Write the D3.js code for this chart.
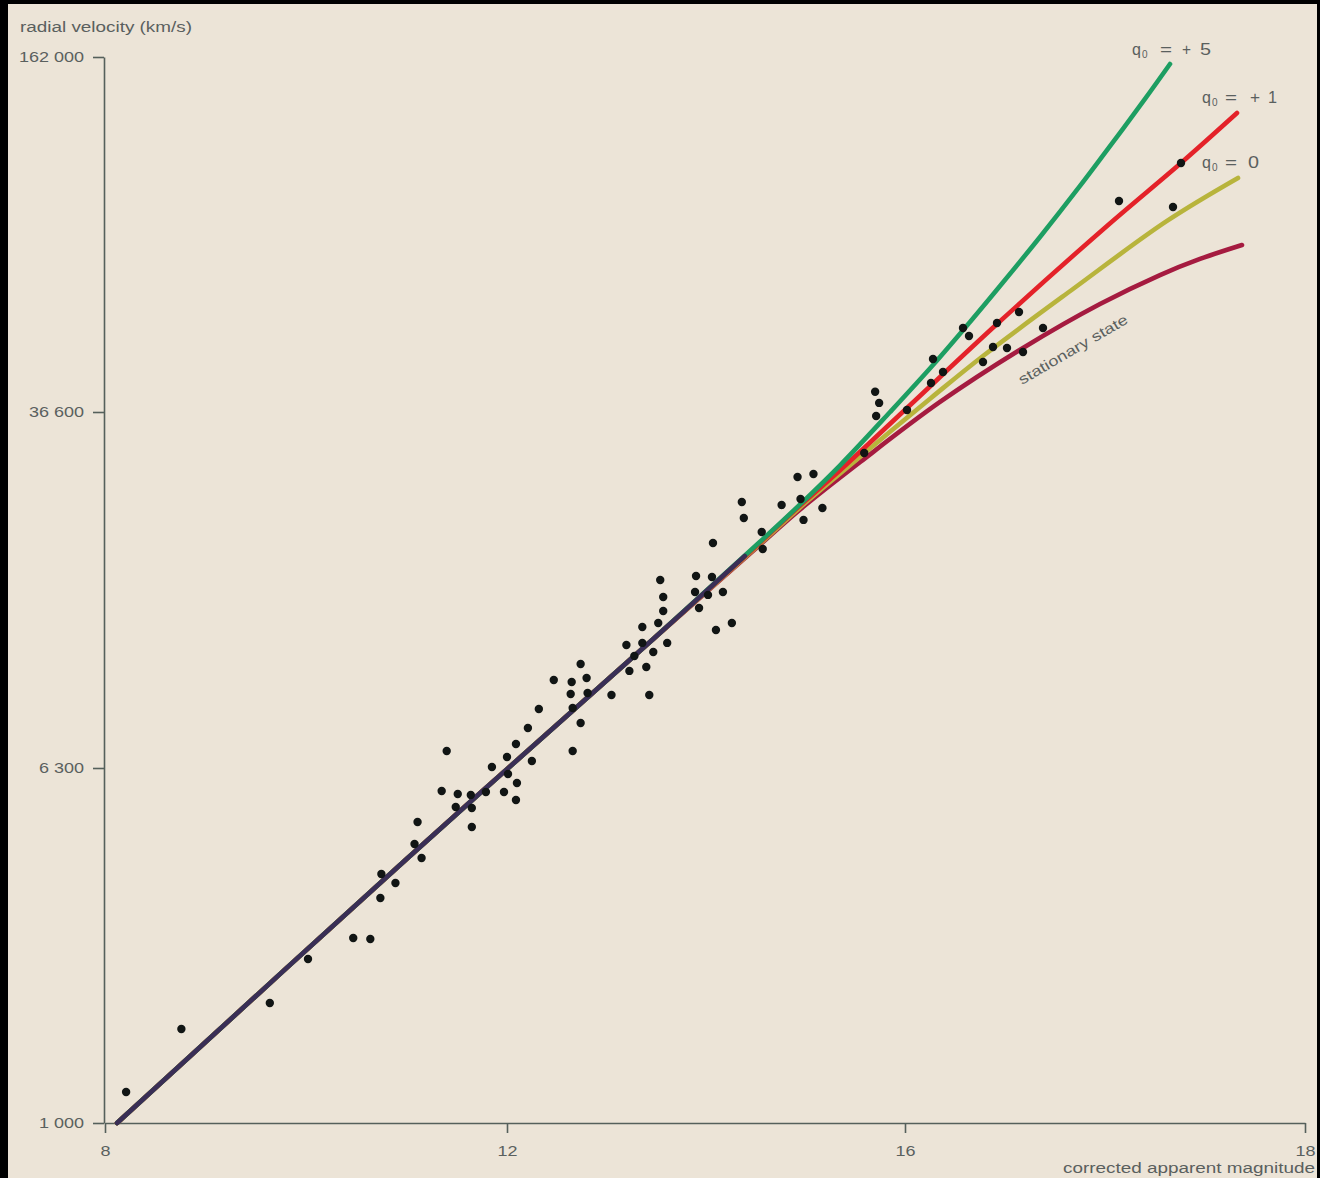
<!DOCTYPE html>
<html>
<head>
<meta charset="utf-8">
<script src="https://cdn.jsdelivr.net/npm/d3@7"></script>
<style>
  html, body { margin: 0; padding: 0; background: #000; }
  svg { display: block; }
  text { font-family: "Liberation Sans", Arial, sans-serif; fill: #5a605e; }
</style>
</head>
<body>
<div id="chart"></div>
<script>
// ---------- data ----------
const xTicks = [8, 12, 16, 18];
const yTicks = [1000, 6300, 36600, 162000];
const yTickLabels = ["1 000", "6 300", "36 600", "162 000"];

// observed galaxies: corrected apparent magnitude, radial velocity (km/s)
const galaxyMag = [8.21, 8.76, 9.64, 10.02, 10.47, 10.64, 10.74, 10.75, 10.89, 11.08, 11.15, 11.11,
  11.40, 11.35, 11.51, 11.64, 11.49, 11.65, 11.65, 11.79, 11.85, 11.97, 12.01, 12.10, 12.09, 12.00,
  12.09, 12.25, 12.21, 12.32, 12.66, 12.74, 12.66, 12.47, 12.65, 12.80, 12.64, 12.81, 12.74, 13.05,
  13.43, 13.23, 13.40, 13.20, 13.36, 13.61, 13.47, 13.28, 13.36, 13.52, 13.54, 13.57, 13.57, 13.90,
  14.06, 13.89, 14.02, 14.17, 13.93, 14.26, 14.10, 14.07, 14.36, 14.38, 14.56, 14.57, 14.76, 14.95,
  15.17, 14.98, 14.92, 15.08, 15.59, 15.70, 15.74, 15.71, 16.01, 16.13, 16.14, 16.19, 16.29, 16.32,
  16.39, 16.44, 16.51, 16.46, 16.57, 16.59, 16.69, 17.07, 17.34, 17.38];
const galaxyVel = [1174, 1628, 1863, 2341, 2609, 2596, 3211, 3636, 3470, 4248, 3952, 4761,
  6850, 5591, 5506, 5478, 5146, 5120, 4640, 5563, 6331, 5563, 6107, 5828, 5338, 6653,
  7096, 6521, 7677, 8433, 8474, 7868, 6851, 9732, 9636, 9829, 9083, 9127, 10530, 9036,
  9036, 10180, 10380, 11570, 11690, 11690, 11180, 10960, 12650, 12900, 15950, 14670, 13690, 16270,
  16190, 15040, 14820, 15040, 13890, 12900, 12460, 19160, 23460, 21680, 20230, 18600, 23120, 23810,
  22780, 21470, 26550, 26940, 29890, 39830, 38020, 35880, 36910, 41330, 45700, 43280, 52030, 50320,
  45140, 48060, 47860, 53130, 55650, 47070, 52030, 88630, 86420, 103900];

// shared low-magnitude part of all model curves
const commonMag = [8.12, 10.99, 13.47, 14.39];
const commonVel = [1000, 3911, 11920, 17970];

// model branches (magnitude, velocity)
const q5Mag = [14.54, 14.94, 15.35, 15.85, 16.14, 16.325, 16.475, 16.675, 16.875, 17.04, 17.20, 17.325];
const q5Vel = [19250, 23120, 28160, 36600, 44570, 53380, 62060, 76200, 94370, 113400, 135900, 157300];
const q1Mag = [14.54, 14.94, 15.35, 16.01, 16.46, 17.01, 17.38, 17.66];
const q1Vel = [19160, 23000, 27480, 37220, 52910, 79800, 103900, 128100];
const q0Mag = [14.54, 14.94, 15.45, 16.13, 16.39, 16.84, 17.31, 17.665];
const q0Vel = [19060, 22780, 28160, 38820, 46290, 61280, 81500, 97570];
const ssMag = [14.54, 14.94, 15.55, 16.175, 16.59, 16.975, 17.275, 17.475, 17.685];
const ssVel = [18970, 22560, 28590, 38170, 47860, 57540, 64970, 69500, 73680];

// ---------- drawing ----------
const W = 1320, H = 1178;
const svg = d3.select("#chart").append("svg").attr("width", W).attr("height", H);
svg.append("rect").attr("x", 0).attr("y", 0).attr("width", W).attr("height", H).attr("fill", "#000");
svg.append("rect").attr("x", 8).attr("y", 4).attr("width", 1309).attr("height", H - 4).attr("fill", "#ece4d7");

const x = d3.scaleLinear().domain([8, 12, 16, 18]).range([105, 507, 905, 1305]);
const y = d3.scaleLog().domain([1000, 6300, 36600, 162000]).range([1123, 768, 412, 57]);

const axisColor = "#55605b";

// axes
const gy = svg.append("g").attr("transform", "translate(104,0)")
  .call(d3.axisLeft(y).tickValues(yTicks).tickFormat((d, i) => yTickLabels[i])
    .tickSize(11).tickSizeOuter(0).tickPadding(9));
const gx = svg.append("g").attr("transform", "translate(0,1123)")
  .call(d3.axisBottom(x).tickValues(xTicks).tickFormat(d3.format("d"))
    .tickSize(10).tickSizeOuter(0).tickPadding(12));
[gx, gy].forEach(g => {
  g.select(".domain").attr("stroke", axisColor).attr("stroke-width", 1.6);
  g.selectAll(".tick line").attr("stroke", axisColor).attr("stroke-width", 1.6);
  g.selectAll(".tick text").attr("fill", "#5a605e").attr("font-size", 15)
    .attr("font-family", "Liberation Sans, Arial, sans-serif");
});
// scanned print is slightly wider than tall: stretch labels horizontally
svg.selectAll(".tick text").each(function () {
  const len = this.getComputedTextLength();
  d3.select(this).attr("textLength", len * 1.2).attr("lengthAdjust", "spacingAndGlyphs");
});

svg.append("text").attr("x", 20).attr("y", 32).attr("font-size", 15.5)
  .attr("textLength", 172).attr("lengthAdjust", "spacingAndGlyphs")
  .text("radial velocity (km/s)");
svg.append("text").attr("x", 1063).attr("y", 1173).attr("font-size", 15.5)
  .attr("textLength", 252).attr("lengthAdjust", "spacingAndGlyphs")
  .text("corrected apparent magnitude");

// curves
const line = d3.line().x(d => x(d[0])).y(d => y(d[1])).curve(d3.curveCatmullRom.alpha(0.5));
const zip = (m, v) => m.map((d, i) => [d, v[i]]);
const base = zip(commonMag.slice(0, 3), commonVel.slice(0, 3));

const curves = [
  { m: ssMag, v: ssVel, color: "#a51b40" },
  { m: q0Mag, v: q0Vel, color: "#b8b43c" },
  { m: q1Mag, v: q1Vel, color: "#e42229" },
  { m: q5Mag, v: q5Vel, color: "#1d9e62" }
];
curves.forEach(c => {
  svg.append("path").datum(base.concat(zip(c.m, c.v)))
    .attr("fill", "none").attr("stroke", c.color).attr("stroke-width", 4.6)
    .attr("stroke-linecap", "round").attr("d", line);
});
svg.append("path").datum(zip(commonMag, commonVel))
  .attr("fill", "none").attr("stroke", "#3a2e56").attr("stroke-width", 4.6)
  .attr("stroke-linecap", "round").attr("d", line);

// galaxies
svg.append("g").selectAll("circle").data(zip(galaxyMag, galaxyVel)).join("circle")
  .attr("cx", d => x(d[0])).attr("cy", d => y(d[1])).attr("r", 4.2)
  .attr("fill", "#111514");

// curve labels: q with subscript 0, then "=" sign and value placed apart
function qLabel(px, py, parts) {
  const g = svg.append("g").attr("transform", `translate(${px},${py})`);
  g.append("text").attr("x", 0).attr("y", 0).attr("font-size", 16).text("q");
  g.append("text").attr("x", 10).attr("y", 3).attr("font-size", 10).text("0");
  parts.forEach(p => g.append("text").attr("x", p[0]).attr("y", 0).attr("font-size", 16)
    .attr("textLength", p[2]).attr("lengthAdjust", "spacingAndGlyphs").text(p[1]));
}
qLabel(1132, 55, [[28, "=", 12], [50, "+", 9], [68, "5", 11]]);
qLabel(1202, 103, [[23, "=", 12], [48, "+", 10], [66, "1", 9]]);
qLabel(1202, 168, [[23, "=", 12], [46, "0", 11]]);

svg.append("text").attr("font-size", 14.5)
  .attr("transform", "translate(1022,385) rotate(-30.3)")
  .attr("textLength", 124).attr("lengthAdjust", "spacingAndGlyphs")
  .text("stationary state");
</script>
</body>
</html>
